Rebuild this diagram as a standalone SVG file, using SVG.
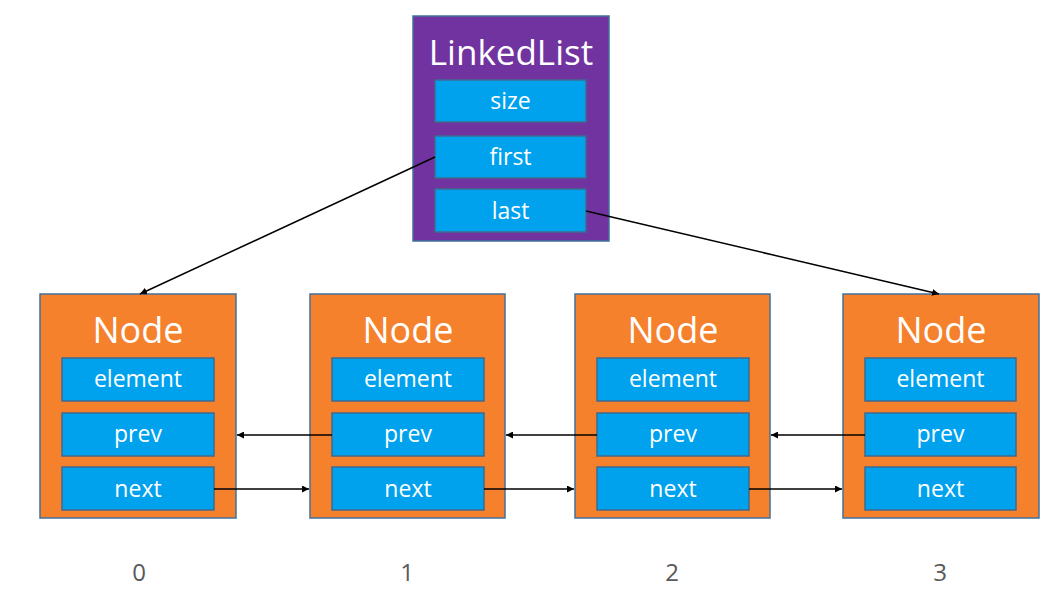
<svg xmlns="http://www.w3.org/2000/svg" width="1057" height="591" viewBox="0 0 1057 591">
  <style>
    .list { fill: #7133A0; stroke: #41719C; stroke-width: 1.5; }
    .node { fill: #F5812D; stroke: #41719C; stroke-width: 1.5; }
    .field { fill: #00A2EE; stroke: #3F6A8E; stroke-width: 1.5; }
    .title { font-family: "Open Sans", "Noto Sans", "DejaVu Sans", sans-serif; fill: #FFFFFF; text-anchor: middle; }
    .ftext { font-family: "Open Sans", "Noto Sans", "DejaVu Sans", sans-serif; font-size: 23px; fill: #FFFFFF; text-anchor: middle; }
    .idx { font-family: "Open Sans", "Noto Sans", "DejaVu Sans", sans-serif; font-size: 24px; fill: #595959; text-anchor: middle; }
    .link { stroke: #000000; stroke-width: 1.5; fill: none; marker-end: url(#head); }
  </style>
  <defs>
    <marker id="head" viewBox="0 0 10 10" refX="10" refY="5" markerWidth="7" markerHeight="7" markerUnits="userSpaceOnUse" orient="auto">
      <path d="M0,0 L10,5 L0,10 Z" fill="#000000"/>
    </marker>
  </defs>

  <rect width="1057" height="591" fill="#FFFFFF"/>

  <!-- LinkedList object -->
  <g id="linkedlist">
    <rect class="list" x="413" y="16" width="196" height="225"/>
    <text class="title" x="511" y="65" font-size="35">LinkedList</text>
    <rect class="field" x="435" y="80" width="151" height="42"/>
    <text class="ftext" x="510.5" y="109">size</text>
    <rect class="field" x="435" y="136" width="151" height="42"/>
    <text class="ftext" x="510.5" y="165">first</text>
    <rect class="field" x="435" y="189" width="151" height="43"/>
    <text class="ftext" x="510.5" y="219">last</text>
  </g>

  <!-- Node 0 -->
  <g id="node0">
    <rect class="node" x="40" y="294" width="196" height="224"/>
    <text class="title" x="138" y="343" font-size="36">Node</text>
    <rect class="field" x="62" y="358" width="152" height="43"/>
    <text class="ftext" x="138" y="387">element</text>
    <rect class="field" x="62" y="413" width="152" height="43"/>
    <text class="ftext" x="138" y="442">prev</text>
    <rect class="field" x="62" y="467" width="152" height="43"/>
    <text class="ftext" x="138" y="497">next</text>
  </g>

  <!-- Node 1 -->
  <g id="node1">
    <rect class="node" x="310" y="294" width="195" height="224"/>
    <text class="title" x="408" y="343" font-size="36">Node</text>
    <rect class="field" x="332" y="358" width="152" height="43"/>
    <text class="ftext" x="408" y="387">element</text>
    <rect class="field" x="332" y="413" width="152" height="43"/>
    <text class="ftext" x="408" y="442">prev</text>
    <rect class="field" x="332" y="467" width="152" height="43"/>
    <text class="ftext" x="408" y="497">next</text>
  </g>

  <!-- Node 2 -->
  <g id="node2">
    <rect class="node" x="575" y="294" width="195" height="224"/>
    <text class="title" x="673" y="343" font-size="36">Node</text>
    <rect class="field" x="597" y="358" width="152" height="43"/>
    <text class="ftext" x="673" y="387">element</text>
    <rect class="field" x="597" y="413" width="152" height="43"/>
    <text class="ftext" x="673" y="442">prev</text>
    <rect class="field" x="597" y="467" width="152" height="43"/>
    <text class="ftext" x="673" y="497">next</text>
  </g>

  <!-- Node 3 -->
  <g id="node3">
    <rect class="node" x="843" y="294" width="196" height="224"/>
    <text class="title" x="941" y="343" font-size="36">Node</text>
    <rect class="field" x="865" y="358" width="151" height="43"/>
    <text class="ftext" x="940.5" y="387">element</text>
    <rect class="field" x="865" y="413" width="151" height="43"/>
    <text class="ftext" x="940.5" y="442">prev</text>
    <rect class="field" x="865" y="467" width="151" height="43"/>
    <text class="ftext" x="940.5" y="497">next</text>
  </g>

  <!-- Indices -->
  <g id="indices">
    <text class="idx" x="139" y="581">0</text>
    <text class="idx" x="407" y="581">1</text>
    <text class="idx" x="672" y="581">2</text>
    <text class="idx" x="940" y="581">3</text>
  </g>

  <!-- References between objects -->
  <g id="connectors">
    <line class="link" x1="435" y1="157" x2="140" y2="294"/>
    <line class="link" x1="586" y1="211" x2="939" y2="294"/>
    <line class="link" x1="332" y1="435" x2="237" y2="435"/>
    <line class="link" x1="597" y1="435" x2="506" y2="435"/>
    <line class="link" x1="865" y1="435" x2="771" y2="435"/>
    <line class="link" x1="214" y1="489" x2="309" y2="489"/>
    <line class="link" x1="484" y1="489" x2="574" y2="489"/>
    <line class="link" x1="749" y1="489" x2="842" y2="489"/>
  </g>
</svg>
